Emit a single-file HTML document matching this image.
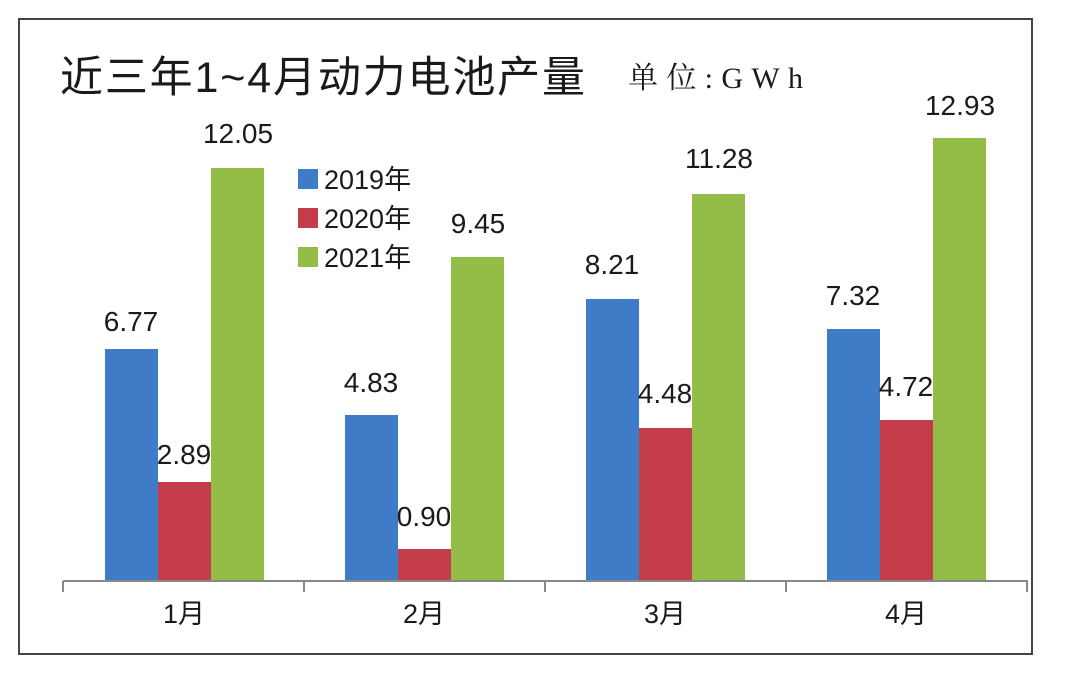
<!DOCTYPE html>
<html><head><meta charset="utf-8"><style>
html,body{margin:0;padding:0;background:#fff;}
svg{display:block;}
text{font-family:"Liberation Sans","Noto Sans CJK SC",sans-serif;fill:#1a1a1a;}
</style></head><body>
<svg width="1065" height="675" viewBox="0 0 1065 675">
<rect x="0" y="0" width="1065" height="675" fill="#fff"/>
<rect x="19" y="19" width="1013" height="635" fill="none" stroke="#444" stroke-width="2"/>
<text x="60" y="92" font-size="43" textLength="525" lengthAdjust="spacing">近三年1~4月动力电池产量</text>
<text x="628" y="88" font-size="30" textLength="175" lengthAdjust="spacing" style="font-family:'Liberation Serif','Noto Serif CJK SC',serif">单位:GWh</text>
<g>
<rect x="105" y="349" width="53" height="232" fill="#3f7cc8"/>
<rect x="158" y="482" width="53" height="99" fill="#c43b4a"/>
<rect x="211" y="168" width="53" height="413" fill="#93bd46"/>
<rect x="345" y="415" width="53" height="166" fill="#3f7cc8"/>
<rect x="398" y="549" width="53" height="32" fill="#c43b4a"/>
<rect x="451" y="257" width="53" height="324" fill="#93bd46"/>
<rect x="586" y="299" width="53" height="282" fill="#3f7cc8"/>
<rect x="639" y="428" width="53" height="153" fill="#c43b4a"/>
<rect x="692" y="194" width="53" height="387" fill="#93bd46"/>
<rect x="827" y="329" width="53" height="252" fill="#3f7cc8"/>
<rect x="880" y="420" width="53" height="161" fill="#c43b4a"/>
<rect x="933" y="138" width="53" height="443" fill="#93bd46"/>
</g>
<g font-size="28" text-anchor="middle">
<text x="131" y="331">6.77</text>
<text x="184" y="464">2.89</text>
<text x="238" y="143">12.05</text>
<text x="371" y="392">4.83</text>
<text x="424" y="526">0.90</text>
<text x="478" y="233">9.45</text>
<text x="612" y="274">8.21</text>
<text x="665" y="403">4.48</text>
<text x="719" y="168">11.28</text>
<text x="853" y="305">7.32</text>
<text x="906" y="396">4.72</text>
<text x="960" y="115">12.93</text>
</g>
<line x1="63" y1="581" x2="1028" y2="581" stroke="#888" stroke-width="2"/>
<g stroke="#888" stroke-width="2">
<line x1="63" y1="581" x2="63" y2="592"/>
<line x1="304" y1="581" x2="304" y2="592"/>
<line x1="545" y1="581" x2="545" y2="592"/>
<line x1="786" y1="581" x2="786" y2="592"/>
<line x1="1027" y1="581" x2="1027" y2="592"/>
</g>
<g font-size="27" text-anchor="middle">
<text x="184" y="623">1月</text>
<text x="424" y="623">2月</text>
<text x="665" y="623">3月</text>
<text x="906" y="623">4月</text>
</g>
<rect x="298" y="169" width="20" height="20" fill="#3f7cc8"/>
<rect x="298" y="208" width="20" height="20" fill="#c43b4a"/>
<rect x="298" y="247" width="20" height="20" fill="#93bd46"/>
<g font-size="27">
<text x="324" y="189">2019年</text>
<text x="324" y="228">2020年</text>
<text x="324" y="267">2021年</text>
</g>
</svg>
</body></html>
